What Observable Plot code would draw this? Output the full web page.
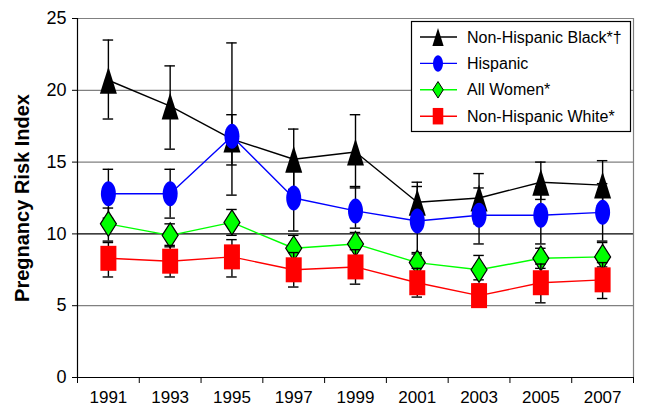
<!DOCTYPE html>
<html><head><meta charset="utf-8">
<script src="https://cdn.jsdelivr.net/npm/d3@7"></script>
<script src="https://cdn.jsdelivr.net/npm/@observablehq/plot@0.6"></script>
<style>body{margin:0;background:#fff;} svg{display:block;}</style>
</head><body><div id="chart"></div>
<script>
const years = [1991, 1993, 1995, 1997, 1999, 2001, 2003, 2005, 2007];
const yTicks = [0, 5, 10, 15, 20, 25];
const seriesNames = ["Non-Hispanic Black*†", "Hispanic", "All Women*", "Non-Hispanic White*"];

const blackValues = [20.7, 18.9, 16.6, 15.2, 15.7, 12.2, 12.5, 13.6, 13.4];
const blackLow    = [18.0, 15.9, 12.7, 13.1, 13.2, 10.6, 10.7, 12.4, 11.6];
const blackHigh   = [23.5, 21.7, 23.3, 17.3, 18.3, 13.6, 14.2, 15.0, 15.1];

const hispanicValues = [12.8, 12.8, 16.8, 12.5, 11.6, 10.9, 11.3, 11.3, 11.5];
const hispanicLow    = [11.1, 11.1, 14.8, 10.2, 10.4, 8.7, 9.3, 9.3, 9.5];
const hispanicHigh   = [14.5, 14.5, 18.3, 14.8, 13.3, 13.3, 13.2, 13.3, 13.5];

const allValues = [10.7, 9.9, 10.8, 9.0, 9.3, 8.0, 7.5, 8.3, 8.4];
const allLow    = [9.5, 9.1, 9.9, 8.2, 8.4, 7.3, 6.8, 7.6, 7.7];
const allHigh   = [11.8, 10.7, 11.7, 9.9, 10.1, 8.6, 8.5, 9.0, 9.4];

const whiteValues = [8.3, 8.1, 8.4, 7.5, 7.7, 6.6, 5.7, 6.6, 6.8];
const whiteLow    = [7.0, 7.0, 7.0, 6.3, 6.5, 5.6, 4.9, 5.2, 5.5];
const whiteHigh   = [9.4, 9.2, 9.6, 8.7, 8.9, 7.6, 6.5, 7.9, 8.0];

// custom marker shapes (r = 10 gives the nominal width/height)
function shape(kind, w, h) {
  return {
    draw(ctx, size) {
      const s = Math.sqrt(size / Math.PI) / 10;
      const a = w * s / 2, b = h * s / 2, k = 0.5523;
      if (kind === "tri") {
        ctx.moveTo(0, -b); ctx.lineTo(a, b); ctx.lineTo(-a, b); ctx.closePath();
      } else if (kind === "ell") {
        ctx.moveTo(0, -b);
        ctx.bezierCurveTo(k * a, -b, a, -k * b, a, 0);
        ctx.bezierCurveTo(a, k * b, k * a, b, 0, b);
        ctx.bezierCurveTo(-k * a, b, -a, k * b, -a, 0);
        ctx.bezierCurveTo(-a, -k * b, -k * a, -b, 0, -b);
        ctx.closePath();
      } else if (kind === "dia") {
        ctx.moveTo(0, -b); ctx.lineTo(a, 0); ctx.lineTo(0, b); ctx.lineTo(-a, 0); ctx.closePath();
      } else {
        ctx.rect(-a, -b, 2 * a, 2 * b);
      }
    }
  };
}

const series = [
  {name: seriesNames[0], v: blackValues, lo: blackLow, hi: blackHigh, color: "#000000", fill: "#000000", stroke: "none", sym: shape("tri", 17, 27)},
  {name: seriesNames[1], v: hispanicValues, lo: hispanicLow, hi: hispanicHigh, color: "#0000ff", fill: "#0000ff", stroke: "none", sym: shape("ell", 15, 25)},
  {name: seriesNames[2], v: allValues, lo: allLow, hi: allHigh, color: "#00ff00", fill: "#00ff00", stroke: "#000000", sym: shape("dia", 16, 25)},
  {name: seriesNames[3], v: whiteValues, lo: whiteLow, hi: whiteHigh, color: "#ff0000", fill: "#ff0000", stroke: "none", sym: shape("rect", 16, 25)}
];
series.forEach(s => s.rows = years.map((y, i) => ({year: y, v: s.v[i], lo: s.lo[i], hi: s.hi[i]})));

const boundaries = [years[0] - 1, ...years.map(y => y + 1)];
const capHalf = 0.17;

const marks = [
  Plot.ruleY(yTicks.filter(t => t !== 0 && t !== 10), {stroke: "#808080", strokeWidth: 1.2}),
  Plot.ruleY([10], {stroke: "#000000", strokeWidth: 1.2}),
  Plot.ruleX([boundaries[boundaries.length - 1]], {stroke: "#808080", strokeWidth: 1.2}),
  Plot.ruleX([boundaries[0]], {stroke: "#000000", strokeWidth: 1.2}),
  Plot.ruleY([0], {stroke: "#000000", strokeWidth: 1.2}),
  Plot.axisY(yTicks, {tickSize: 5, tickPadding: 6, fontSize: 18, stroke: "#000", label: null}),
  Plot.axisX(years, {tickSize: 0, tickPadding: 13, fontSize: 17, tickFormat: d => String(d), label: null}),
  Plot.axisX(boundaries, {tickSize: 6, tickFormat: () => "", label: null, stroke: "#000"}),
  Plot.text(["Pregnancy Risk Index"], {frameAnchor: "left", rotate: -90, dx: -55, textAnchor: "middle", fontWeight: "bold", fontSize: 20, fill: "#000"})
];
for (const s of series) {
  marks.push(
    Plot.ruleX(s.rows, {x: "year", y1: "lo", y2: "hi", stroke: "#000", strokeWidth: 1.4}),
    Plot.ruleY(s.rows, {y: "lo", x1: d => d.year - capHalf, x2: d => d.year + capHalf, stroke: "#000", strokeWidth: 1.4}),
    Plot.ruleY(s.rows, {y: "hi", x1: d => d.year - capHalf, x2: d => d.year + capHalf, stroke: "#000", strokeWidth: 1.4}),
    Plot.line(s.rows, {x: "year", y: "v", stroke: s.color, strokeWidth: 1.4}),
    Plot.dot(s.rows, {x: "year", y: "v", r: 10, symbol: s.sym, fill: s.fill, stroke: s.stroke, strokeWidth: 1.2})
  );
}

const chart = Plot.plot({
  width: 645, height: 407,
  marginLeft: 77, marginRight: 12, marginTop: 18, marginBottom: 30,
  style: {fontFamily: "'Liberation Sans', Arial, sans-serif", fontSize: "18px", color: "#000", background: "#fff"},
  x: {type: "linear", domain: [boundaries[0], boundaries[boundaries.length - 1]]},
  y: {domain: [0, 25]},
  marks
});
document.getElementById("chart").appendChild(chart);

// legend
const svg = d3.select(chart);
const lg = svg.append("g").attr("text-anchor", "start");
lg.append("rect").attr("x", 411.5).attr("y", 21.5).attr("width", 219).attr("height", 110)
  .attr("fill", "#fff").attr("stroke", "#000").attr("stroke-width", 1.2);
series.forEach((s, i) => {
  const cy = 37 + i * 26.4;
  lg.append("line").attr("x1", 420).attr("x2", 457).attr("y1", cy).attr("y2", cy)
    .attr("stroke", s.color).attr("stroke-width", 1.4);
  const p = d3.path();
  s.sym.draw(p, 6.6 * 6.6 * Math.PI);
  lg.append("path").attr("d", p.toString()).attr("transform", `translate(438,${cy})`)
    .attr("fill", s.fill).attr("stroke", s.stroke).attr("stroke-width", 1);
  lg.append("text").attr("x", 467).attr("y", cy).attr("dy", "0.35em")
    .attr("text-anchor", "start").attr("font-size", 16).attr("fill", "#000").text(s.name);
});
</script>
</body></html>
